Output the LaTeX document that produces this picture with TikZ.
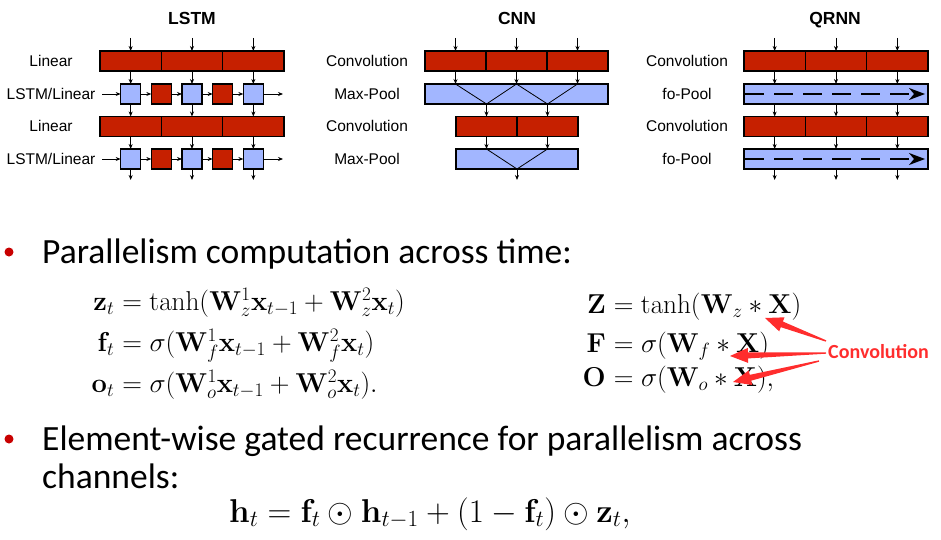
\RequirePackage{fix-cm}
\documentclass[tikz,border=0pt]{standalone}
\usepackage{amsmath}
\usepackage[no-math]{fontspec}
\newfontfamily\arialf{Liberation Sans}
\newfontfamily\calib{Carlito}
\usetikzlibrary{arrows.meta,calc}
\definecolor{boxred}{RGB}{198,32,0}
\definecolor{boxblue}{RGB}{162,182,255}
\definecolor{bulletred}{RGB}{200,0,0}
\definecolor{convred}{RGB}{255,45,45}
\begin{document}
\begin{tikzpicture}[x=1pt,y=-1pt,
  cellr/.style={draw=black,line width=1.2pt,fill=boxred,minimum height=20pt,inner sep=0pt,outer sep=0pt,anchor=north west},
  barb/.style={draw=black,line width=1.2pt,fill=boxblue,minimum height=20pt,inner sep=0pt,outer sep=0pt,anchor=north west},
  sqb/.style={draw=black,line width=1.2pt,fill=boxblue,minimum size=20pt,inner sep=0pt,outer sep=0pt},
  sqr/.style={draw=black,line width=1.2pt,fill=boxred,minimum size=20pt,inner sep=0pt,outer sep=0pt},
  arr/.style={-{Stealth[length=5pt,width=4pt]},line width=0.8pt},
  thin/.style={line width=0.8pt},
  fopool/.style={dash pattern=on 19pt off 10pt,line width=1.6pt,-{Stealth[length=16pt,width=12pt,inset=5pt]},shorten >=3pt,shorten <=1pt},
  lbl/.style={font=\arialf\fontsize{15.5}{18}\selectfont,anchor=base,inner sep=0pt},
  ttl/.style={font=\arialf\bfseries\fontsize{17.5}{20}\selectfont,anchor=base,inner sep=0pt},
  btxt/.style={font=\calib\fontsize{35.5}{40}\selectfont,anchor=base west,inner sep=0pt},
  bdot/.style={circle,fill=bulletred,minimum size=9pt,inner sep=0pt},
  eqr/.style={font=\fontsize{27.3}{32}\selectfont,anchor=base west,inner sep=0pt},
  eql/.style={font=\fontsize{27.3}{32}\selectfont,anchor=base east,inner sep=0pt},
  eqh/.style={font=\fontsize{33}{38}\selectfont,anchor=base west,inner sep=0pt},
  redarrow/.style={fill=convred,draw=none}]
\useasboundingbox (0,0) rectangle (941,540);

% ---------------- LSTM ----------------
\node[ttl] (tL) at (192,25) {LSTM};
\node[lbl] (lL1) at (51,66.5) {Linear};
\node[lbl] (lL2) at (51,99.5) {LSTM/Linear};
\node[lbl] (lL3) at (51,132) {Linear};
\node[lbl] (lL4) at (51,164.5) {LSTM/Linear};
\foreach \n/\x in {a/100,b/161.33,c/222.67}{
  \node[cellr,minimum width=61.33pt] (L1\n) at (\x,51) {};
  \node[cellr,minimum width=61.33pt] (L3\n) at (\x,116.5) {};
}
\foreach \r/\y in {2/94,4/159}{
  \node[sqb] (S\r a) at (L1a.center |- 0,\y) {};
  \node[sqb] (S\r b) at (L1b.center |- 0,\y) {};
  \node[sqb] (S\r c) at (L1c.center |- 0,\y) {};
  \node[sqr] (R\r a) at (L1a.north east |- 0,\y) {};
  \node[sqr] (R\r b) at (L1b.north east |- 0,\y) {};
  \coordinate (in\r) at (102,\y);
  \coordinate (out\r) at (283,\y);
  \draw[arr] (in\r) -- (S\r a);
  \draw[arr] (S\r a) -- (R\r a);
  \draw[arr] (R\r a) -- (S\r b);
  \draw[arr] (S\r b) -- (R\r b);
  \draw[arr] (R\r b) -- (S\r c);
  \draw[arr] (S\r c) -- (out\r);
}
\foreach \n in {a,b,c}{
  \coordinate (Lin\n) at ($(L1\n.north)+(0,-13)$);
  \coordinate (Lout\n) at ($(S4\n.south)+(0,11)$);
  \draw[arr] (Lin\n) -- (L1\n.north);
  \draw[arr] (L1\n.south) -- (S2\n.north);
  \draw[arr] (S2\n.south) -- (L3\n.north);
  \draw[arr] (L3\n.south) -- (S4\n.north);
  \draw[arr] (S4\n.south) -- (Lout\n);
}

% ---------------- CNN ----------------
\node[ttl] (tC) at (517,25) {CNN};
\node[lbl] (lC1) at (367,66.5) {Convolution};
\node[lbl] (lC2) at (367,99.5) {Max-Pool};
\node[lbl] (lC3) at (367,132) {Convolution};
\node[lbl] (lC4) at (367,164.5) {Max-Pool};
\foreach \n/\x in {a/425,b/486,c/547}{
  \node[cellr,minimum width=61pt] (C1\n) at (\x,51) {};
}
\node[barb,minimum width=183pt] (M1) at (425,84) {};
\foreach \n/\x in {a/456,b/517}{
  \node[cellr,minimum width=61pt] (C3\n) at (\x,116.5) {};
}
\node[barb,minimum width=122pt] (M2) at (456,149) {};
\foreach \n in {a,b,c}{
  \coordinate (Cin\n) at ($(C1\n.north)+(0,-13)$);
  \draw[arr] (Cin\n) -- (C1\n.north);
  \draw[arr] (C1\n.south) -- (C1\n.south |- M1.north);
}
\draw[thin] (C1a.south |- M1.north) -- (C3a.north |- M1.south);
\draw[thin] (C1b.south |- M1.north) -- (C3a.north |- M1.south);
\draw[thin] (C1b.south |- M1.north) -- (C3b.north |- M1.south);
\draw[thin] (C1c.south |- M1.north) -- (C3b.north |- M1.south);
\foreach \n in {a,b}{
  \draw[arr] (C3\n.north |- M1.south) -- (C3\n.north);
  \draw[arr] (C3\n.south) -- (C3\n.south |- M2.north);
}
\draw[thin] (C3a.south |- M2.north) -- (M2.south);
\draw[thin] (C3b.south |- M2.north) -- (M2.south);
\coordinate (Cout) at ($(M2.south)+(0,11)$);
\draw[arr] (M2.south) -- (Cout);

% ---------------- QRNN ----------------
\node[ttl] (tQ) at (835,25) {QRNN};
\node[lbl] (lQ1) at (687,66.5) {Convolution};
\node[lbl] (lQ2) at (687,99.5) {fo-Pool};
\node[lbl] (lQ3) at (687,132) {Convolution};
\node[lbl] (lQ4) at (687,164.5) {fo-Pool};
\foreach \n/\x in {a/744,b/805.33,c/866.67}{
  \node[cellr,minimum width=61.33pt] (Q1\n) at (\x,51) {};
  \node[cellr,minimum width=61.33pt] (Q3\n) at (\x,116.5) {};
}
\node[barb,minimum width=184pt] (F2) at (744,84) {};
\node[barb,minimum width=184pt] (F4) at (744,149) {};
\draw[fopool] (F2.west) -- (F2.east);
\draw[fopool] (F4.west) -- (F4.east);
\foreach \n in {a,b,c}{
  \coordinate (Qin\n) at ($(Q1\n.north)+(0,-13)$);
  \coordinate (Qout\n) at ($(Q1\n.north |- F4.south)+(0,11)$);
  \draw[arr] (Qin\n) -- (Q1\n.north);
  \draw[arr] (Q1\n.south) -- (Q1\n.south |- F2.north);
  \draw[arr] (Q1\n.south |- F2.south) -- (Q3\n.north);
  \draw[arr] (Q3\n.south) -- (Q3\n.south |- F4.north);
  \draw[arr] (Q3\n.south |- F4.south) -- (Qout\n);
}

% ---------------- Text ----------------
\node[bdot] (d1) at (9,252) {};
\node[btxt] (b1) at (42,263) {Parallelism computation across time:};

\node[eql] (zl) at (114.5,310) {$\mathbf{z}_t$};
\node[eqr] (zr) at (114.5,310) {${}=\tanh(\mathbf{W}_z^1\mathbf{x}_{t-1}+\mathbf{W}_z^2\mathbf{x}_t)$};
\node[eql] (fl) at (114.5,351) {$\mathbf{f}_t$};
\node[eqr] (fr) at (114.5,351) {${}=\sigma(\mathbf{W}_f^1\mathbf{x}_{t-1}+\mathbf{W}_f^2\mathbf{x}_t)$};
\node[eql] (ol) at (114.5,392) {$\mathbf{o}_t$};
\node[eqr] (or) at (114.5,392) {${}=\sigma(\mathbf{W}_o^1\mathbf{x}_{t-1}+\mathbf{W}_o^2\mathbf{x}_t).$};

\node[eql] (Zl) at (606,313) {$\mathbf{Z}$};
\node[eqr] (Zr) at (606,313) {${}=\tanh(\mathbf{W}_z*\mathbf{X})$};
\node[eql] (Fl) at (606,352) {$\mathbf{F}$};
\node[eqr] (Fr) at (606,352) {${}=\sigma(\mathbf{W}_f*\mathbf{X})$};
\node[eql] (Ol) at (606,386) {$\mathbf{O}$};
\node[eqr] (Or) at (606,386) {${}=\sigma(\mathbf{W}_o*\mathbf{X}),$};

\node[anchor=west,inner sep=0pt,font=\calib\bfseries\fontsize{20}{22}\selectfont,text=convred] (convlbl) at (828,352) {Convolution};
\coordinate (t1) at (826,341);
\coordinate (t2) at (826,353);
\coordinate (t3) at (819,361);
\coordinate (p1) at (765,318);
\coordinate (p2) at (730,356);
\coordinate (p3) at (733,382);
\foreach \T/\P in {t1/p1,t2/p2,t3/p3}{
  \coordinate (hb) at ($(\P)!18pt!(\T)$);
  \fill[redarrow] ($(\T)!0.7pt!90:(\P)$) -- ($(hb)!3pt!90:(\P)$) -- ($(hb)!7.5pt!90:(\P)$) -- (\P)
     -- ($(hb)!7.5pt!-90:(\P)$) -- ($(hb)!3pt!-90:(\P)$) -- ($(\T)!0.7pt!-90:(\P)$) -- cycle;
}

\node[bdot] (d2) at (9,439) {};
\node[btxt] (b2) at (42,450) {Element-wise gated recurrence for parallelism across};
\node[btxt] (b3) at (42,488) {channels:};
\node[eqh] (hl) at (229,522) {$\mathbf{h}_t=\mathbf{f}_t\odot\mathbf{h}_{t-1}+(1-\mathbf{f}_t)\odot\mathbf{z}_t,$};
\end{tikzpicture}
\end{document}
